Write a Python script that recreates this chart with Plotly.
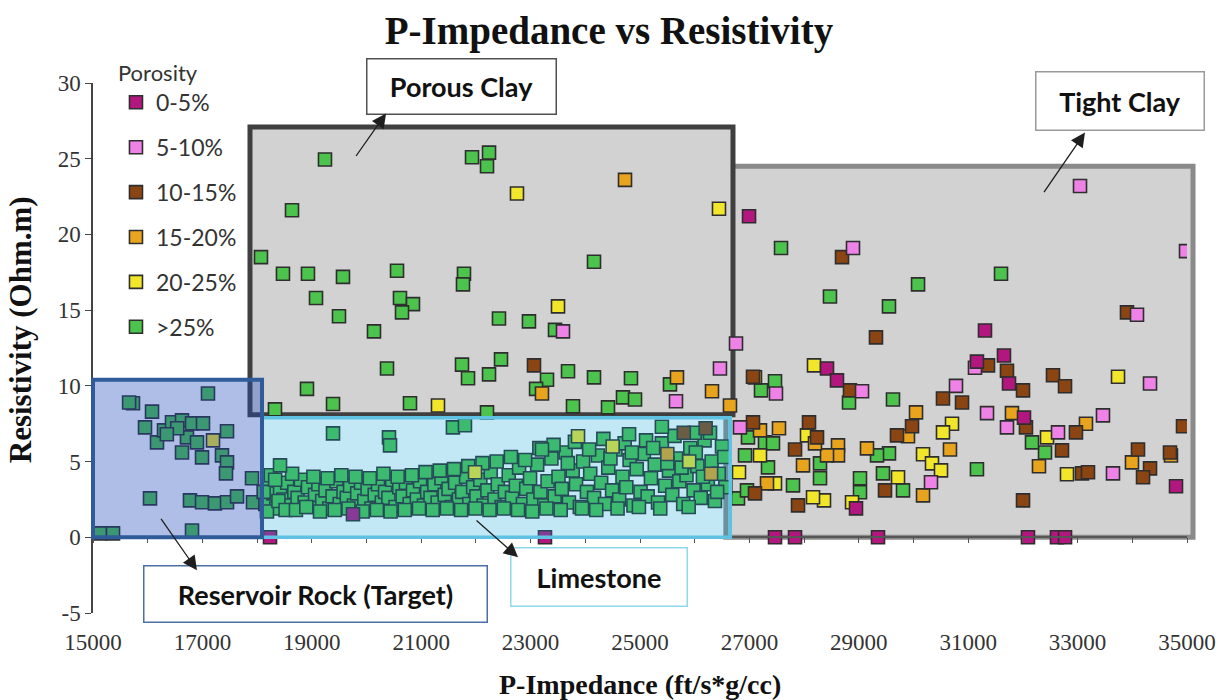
import plotly.graph_objects as go

# ---------------------------------------------------------------
# Porosity classes and their colours
# ---------------------------------------------------------------
classes = ["0-5%", "5-10%", "10-15%", "15-20%", "20-25%", ">25%"]
class_colors = ["#B3177F", "#EE82E6", "#8B4513", "#E9A41E", "#F2E62B", "#4CC34C"]

# (P-Impedance, Resistivity) samples per porosity class
pts_0_5 = [
    (18236, 0), (23263, 0), (27468, 0), (27834, 0), (29351, 0), (32093, 0),
    (32623, 0), (32770, 0), (19753, 1.52), (26993, 21.2), (31307, 13.66),
    (28419, 11.15), (28601, 10.36), (31160, 11.6), (31654, 12.0), (31746, 10.16),
    (32020, 7.9), (34799, 3.37), (28949, 1.91),
]
pts_5_10 = [
    (23592, 13.6), (25658, 8.98), (26462, 11.15), (26755, 12.8), (33044, 23.2),
    (28894, 19.1), (34982, 18.9), (34086, 14.7), (27486, 9.5), (29059, 9.64),
    (30777, 10.0), (31124, 11.2), (34324, 10.16), (33464, 8.05), (32642, 6.93),
    (33647, 4.22), (31709, 7.26), (31344, 8.2), (30320, 3.63), (26828, 7.26),
]
pts_10_15 = [
    (23062, 11.35), (28693, 18.5), (33903, 14.85), (29314, 13.2), (27066, 10.6),
    (28839, 9.7), (30539, 9.17), (30887, 8.9), (31362, 11.35), (31709, 11.0),
    (32002, 9.7), (32550, 10.7), (32770, 9.97), (34927, 7.33), (32970, 6.93),
    (32715, 5.74), (33080, 4.22), (33190, 4.29), (34104, 5.8), (34324, 4.55),
    (34196, 3.96), (34689, 5.6), (32002, 2.44), (32056, 7.26), (29973, 7.33),
    (29698, 6.73), (29479, 3.1), (28090, 7.59), (28236, 6.6), (27834, 5.8),
    (27889, 2.11), (27066, 7.59), (27102, 2.9), (26200, 7.2), (25800, 6.9),
]
pts_15_20 = [
    (24726, 23.6), (23208, 9.5), (25676, 10.56), (26316, 9.64), (26645, 8.7),
    (27102, 10.56), (33153, 7.5), (32294, 4.69), (33994, 4.95), (34707, 5.4),
    (31800, 8.2), (30667, 5.8), (30046, 8.25), (29899, 6.67), (30174, 2.77),
    (29150, 5.87), (28620, 6.07), (28620, 5.41), (28419, 5.41), (28199, 6.2),
    (27980, 4.75), (27322, 3.56), (27541, 7.2), (27194, 7.06), (25500, 5.5),
    (26300, 4.2),
]
pts_20_25 = [
    (22751, 22.7), (26444, 21.7), (23501, 15.25), (21307, 8.7), (28181, 11.35),
    (33739, 10.6), (32441, 6.6), (32806, 4.16), (30704, 7.5), (30539, 6.93),
    (30174, 5.48), (30338, 4.88), (30503, 4.42), (29717, 3.96), (28876, 2.31),
    (28364, 2.44), (28163, 2.64), (28053, 6.73), (27468, 3.56), (27194, 5.41),
    (26810, 4.29), (17194, 6.4), (21984, 4.29), (23867, 6.67), (24500, 6.0),
    (25900, 5.0),
]
pts_gt25 = [
    # reservoir rock
    (15128, 0.26), (15366, 0.26), (15731, 8.85), (15660, 8.9), (17102, 9.5),
    (16079, 8.3), (15951, 7.26), (16170, 6.27), (16298, 7.06), (16444, 7.6),
    (16627, 7.72), (16810, 7.52), (17011, 7.52), (16718, 6.6), (16901, 6.27),
    (17450, 7.0), (16627, 5.6), (16993, 5.28), (17358, 5.41), (17450, 4.95),
    (17431, 4.22), (16042, 2.57), (16773, 2.44), (16993, 2.31), (17230, 2.24),
    (17450, 2.31), (17633, 2.7), (17907, 3.9), (17925, 2.31), (16810, 0.45),
    (16540, 7.2), (16350, 6.8),
    # porous clay
    (19241, 24.95), (18638, 21.6), (18071, 18.5), (18473, 17.4), (18930, 17.4),
    (19570, 17.2), (20558, 17.6), (19077, 15.8), (19497, 14.6), (20137, 13.6),
    (20612, 15.8), (20850, 15.4), (20649, 14.85), (21929, 25.1), (22240, 25.4),
    (22203, 24.5), (24159, 18.2), (21782, 17.4), (21764, 16.7), (23446, 13.7),
    (22422, 14.45), (22970, 14.26), (20375, 11.15), (18912, 9.8), (19388, 8.8),
    (18327, 8.45), (20795, 8.85), (21746, 11.4), (22459, 11.75), (21856, 10.5),
    (22240, 10.76), (23300, 10.4), (23100, 9.8), (23684, 10.96), (24159, 10.56),
    (24835, 10.5), (25548, 10.1), (24689, 9.24), (24909, 9.1), (23775, 8.65),
    (24415, 8.58), (22203, 8.25),
    # tight clay
    (27578, 19.1), (31600, 17.4), (30083, 16.7), (28473, 15.9), (29552, 15.25),
    (27468, 10.3), (27212, 9.7), (28821, 8.9), (29625, 9.1), (32404, 5.6),
    (32166, 6.27), (31160, 4.49), (29808, 3.1), (29442, 4.22), (29552, 5.54),
    (29333, 5.41), (29022, 3.9), (29022, 2.97), (28291, 3.9), (28291, 4.88),
    (27797, 3.43), (27340, 4.62), (27285, 6.27), (26974, 6.6), (26920, 5.41),
    (27431, 6.2), (26792, 2.57), (26956, 3.1),
    # limestone
    (18150, 2.2), (18200, 3.4), (18250, 4.1), (18300, 2.9), (18350, 1.9),
    (18420, 3.2), (18480, 2.5), (18550, 3.6), (18610, 2.1), (18680, 3.0),
    (18740, 2.6), (18800, 3.8), (18870, 2.3), (18930, 3.3), (19000, 2.0),
    (19060, 2.8), (19120, 3.5), (19190, 2.4), (19250, 3.1), (19320, 1.9),
    (19380, 2.7), (19450, 3.7), (19510, 2.2), (19580, 3.0), (19640, 2.6),
    (19700, 3.4), (19770, 2.1), (19830, 2.9), (19900, 3.6), (19960, 2.4),
    (20020, 3.2), (20090, 1.9), (20150, 2.8), (20210, 3.5), (20280, 2.3),
    (20340, 3.0), (20400, 2.6), (20470, 3.8), (20530, 2.0), (20600, 3.3),
    (20660, 2.7), (20720, 3.6), (20790, 2.2), (20850, 3.1), (20920, 2.5),
    (20980, 3.7), (21050, 2.1), (21110, 3.0), (21170, 2.6), (21240, 3.5),
    (21300, 2.3), (21370, 3.9), (21430, 2.8), (21500, 3.2), (21560, 2.0),
    (21620, 3.6), (21690, 2.5), (21750, 3.0), (21820, 4.0), (21880, 2.2),
    (21950, 3.3), (22010, 2.7), (22080, 3.8), (22140, 2.1), (22210, 3.1),
    (22270, 4.3), (22340, 2.5), (22400, 3.5), (22470, 2.0), (22530, 3.0),
    (22600, 4.1), (22660, 2.6), (22730, 3.4), (22790, 4.6), (22860, 2.2),
    (22920, 3.2), (22990, 3.9), (23050, 2.5), (23120, 4.8), (23180, 3.0),
    (23250, 2.1), (23310, 3.7), (23380, 5.2), (23440, 2.7), (23510, 4.0),
    (23570, 3.2), (23640, 5.6), (23700, 2.3), (23770, 4.4), (23830, 3.5),
    (23900, 2.0), (23960, 5.0), (24030, 3.0), (24090, 4.2), (24160, 2.6),
    (24230, 5.4), (24290, 3.6), (24360, 2.2), (24420, 4.6), (24490, 3.1),
    (24550, 5.8), (24620, 2.5), (24680, 4.0), (24750, 3.3), (24810, 5.1),
    (24880, 2.1), (24940, 4.5), (25010, 3.0), (25070, 5.5), (25140, 2.7),
    (25200, 3.9), (25270, 4.8), (25330, 2.3), (25400, 6.2), (25460, 3.4),
    (25530, 4.4), (25590, 2.8), (25660, 5.2), (25720, 3.7), (25790, 2.2),
    (25850, 4.1), (25920, 5.9), (25980, 3.1), (26050, 4.7), (26110, 2.6),
    (26180, 6.4), (26240, 3.5), (26310, 5.0), (26370, 2.4), (26440, 4.2),
    (26500, 6.0), (26560, 3.3),
    (18120, 3.0), (18180, 1.7), (18330, 3.8), (18390, 2.4), (18520, 1.8),
    (18640, 4.2), (18710, 1.8), (18900, 2.0), (19030, 4.0), (19150, 1.7),
    (19290, 3.9), (19420, 1.8), (19540, 4.1), (19670, 1.9), (19800, 4.0),
    (19930, 1.7), (20060, 3.9), (20190, 1.8), (20310, 4.2), (20440, 1.7),
    (20570, 4.0), (20700, 1.8), (20830, 4.1), (20960, 1.9), (21080, 4.3),
    (21210, 1.8), (21340, 4.4), (21470, 1.9), (21600, 4.5), (21730, 1.8),
    (21860, 4.7), (21990, 1.9), (22120, 4.9), (22250, 1.8), (22380, 5.0),
    (22510, 1.9), (22640, 5.3), (22770, 1.8), (22900, 5.1), (23030, 1.7),
    (23160, 5.9), (23290, 1.9), (23420, 6.1), (23550, 1.8), (23680, 4.9),
    (23810, 6.3), (23940, 1.9), (24070, 5.8), (24200, 1.8), (24330, 6.5),
    (24460, 5.2), (24590, 1.9), (24720, 6.2), (24850, 5.6), (24980, 2.0),
    (25110, 6.4), (25240, 5.9), (25370, 1.9), (25500, 4.9), (25630, 6.7),
    (25760, 4.6), (25890, 2.0), (26020, 5.6), (26150, 4.0), (26280, 6.9),
    (26410, 3.0), (26540, 5.3),
    (18419, 4.75), (19388, 6.86), (20411, 6.6), (20430, 6.07), (23208, 5.8),
    (21580, 7.26), (21800, 7.4), (24800, 6.8), (25400, 7.3), (26000, 6.9),
]
series_pts = [pts_0_5, pts_5_10, pts_10_15, pts_15_20, pts_20_25, pts_gt25]

x_ticks = [15000, 17000, 19000, 21000, 23000, 25000, 27000, 29000, 31000, 33000, 35000]
y_ticks = [-5, 0, 5, 10, 15, 20, 25, 30]

X_RANGE = [15000, 35000]
Y_RANGE = [-5, 30]

SERIF = "Liberation Serif"
SANS = "Lato"


def px_x(v):
    """Data x -> paper fraction (lets outlines run past the axis ends unclipped)."""
    return (v - X_RANGE[0]) / (X_RANGE[1] - X_RANGE[0])


def px_y(v):
    return (v - Y_RANGE[0]) / (Y_RANGE[1] - Y_RANGE[0])


fig = go.Figure()

# draw from high porosity to low so the sparse classes stay visible
order = [5, 4, 3, 2, 1, 0]
for i in order:
    xs = [p[0] for p in series_pts[i]]
    ys = [p[1] for p in series_pts[i]]
    fig.add_trace(go.Scatter(
        x=xs, y=ys, mode="markers", name=classes[i],
        legendgroup=classes[i], legendrank=i + 1,
        xaxis="x2" if i == 0 else "x",
        marker=dict(symbol="square", size=13, color=class_colors[i],
                    line=dict(color="#2e2e2e", width=1.6)),
        hoverinfo="x+y+name",
    ))

# facies regions (layout decoration)
regions = [
    dict(x0=26570, x1=35110, y0=0, y1=24.5, line="#8a8a8a", width=5,
         fill="#d2d2d2", layer="below"),
    dict(x0=17870, x1=26700, y0=8.1, y1=27.1, line="#3f3f3f", width=5,
         fill="#d2d2d2", layer="below"),
    dict(x0=18090, x1=26650, y0=0, y1=7.9, line="#5fc2e2", width=3.5,
         fill="rgba(11,163,219,0.25)", layer="above"),
    dict(x0=15000, x1=18090, y0=0, y1=10.4, line="#2f5b9a", width=4,
         fill="rgba(33,74,186,0.36)", layer="above"),
]
for r in regions:
    fig.add_shape(type="rect", xref="paper", yref="paper",
                  x0=px_x(r["x0"]), x1=px_x(r["x1"]),
                  y0=px_y(r["y0"]), y1=px_y(r["y1"]),
                  line=dict(color=r["line"], width=r["width"]),
                  fillcolor=r["fill"], layer=r["layer"])

# region labels
labels = [
    dict(text="Porous Clay", x=21728, y=29.77, w=188, h=54, border="#505050"),
    dict(text="Tight Clay", x=33775, y=28.84, w=167, h=57, border="#9a9a9a"),
    dict(text="Reservoir Rock (Target)", x=19059, y=-3.76, w=342, h=55, border="#4a6fa5"),
    dict(text="Limestone", x=24250, y=-2.64, w=175, h=57, border="#8fd8ea"),
]
for lb in labels:
    fig.add_annotation(
        x=lb["x"], y=lb["y"], xref="x", yref="y", text=lb["text"], showarrow=False,
        width=lb["w"], height=lb["h"], bgcolor="white", bordercolor=lb["border"],
        borderwidth=1.5, borderpad=0, align="center", valign="middle",
        font=dict(family=SANS, size=27, color="#111111", weight="bold"),
    )

# pointer arrows: (tail x, tail y, head x, head y)
arrows = [
    (19790, 25.08, 20357, 27.99),
    (32367, 22.7, 33135, 26.73),
    (16225, 1.32, 16901, -2.18),
    (21984, 1.19, 22770, -1.32),
]
for tx, ty, hx, hy in arrows:
    fig.add_annotation(
        x=hx, y=hy, ax=tx, ay=ty, xref="x", yref="y", axref="x", ayref="y",
        text="", showarrow=True, arrowhead=2, arrowsize=2.2, arrowwidth=1.3,
        arrowcolor="#1e1e1e", standoff=0, startstandoff=0,
    )

# axis titles
fig.add_annotation(
    x=-0.066, y=0.535, xref="paper", yref="paper", text="Resistivity (Ohm.m)",
    textangle=-90, showarrow=False, xanchor="center", yanchor="middle",
    font=dict(family=SERIF, size=31, color="#111111", weight="bold"),
)
fig.add_annotation(
    x=0.5, y=-0.134, xref="paper", yref="paper", text="P-Impedance (ft/s*g/cc)",
    showarrow=False, xanchor="center", yanchor="middle",
    font=dict(family=SERIF, size=28, color="#111111", weight="bold"),
)

fig.update_layout(
    width=1229, height=700,
    margin=dict(l=93, r=42, t=83, b=87),
    paper_bgcolor="white", plot_bgcolor="white",
    title=dict(text="P-Impedance vs Resistivity", x=0.4955, y=0.957,
               xref="container", yref="container", xanchor="center", yanchor="middle",
               font=dict(family=SERIF, size=39, color="#111111", weight="bold")),
    xaxis=dict(range=X_RANGE, tickvals=x_ticks,
               ticktext=[str(v) for v in x_ticks], showline=False, showgrid=False,
               zeroline=False, ticks="outside", ticklen=8, tickcolor="rgba(0,0,0,0)",
               tickfont=dict(family=SERIF, size=23, color="#333333")),
    xaxis2=dict(range=X_RANGE, overlaying="x", anchor="free",
                position=px_y(0), side="bottom", showline=True, linecolor="#555555",
                linewidth=1.5, showgrid=False, zeroline=False, ticks="outside",
                dtick=1000, tick0=15000, ticklen=5, tickwidth=1.2,
                tickcolor="#555555", showticklabels=False),
    yaxis=dict(range=Y_RANGE, tickvals=y_ticks, ticktext=[str(v) for v in y_ticks],
               showline=True, linecolor="#444444",
               linewidth=1.5, showgrid=False, zeroline=False, ticks="outside",
               ticklen=6, tickwidth=1.2, tickcolor="#444444",
               tickfont=dict(family=SERIF, size=23, color="#333333")),
    legend=dict(x=0.021, y=1.058, xref="paper", yref="paper", xanchor="left", yanchor="top",
                bgcolor="rgba(0,0,0,0)", tracegroupgap=12, itemwidth=30,
                title=dict(text="Porosity", font=dict(family=SANS, size=22, color="#333333")),
                font=dict(family=SANS, size=23, color="#333333")),
    showlegend=True,
)

fig.write_html("out.html")
